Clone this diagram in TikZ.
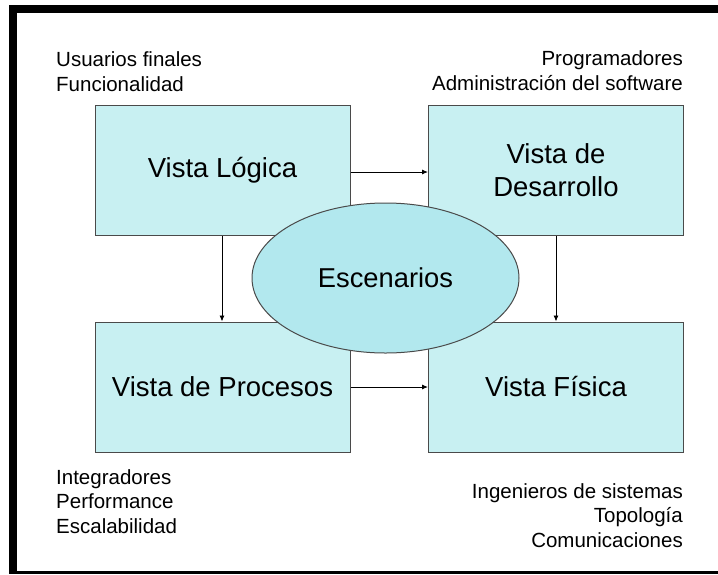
\documentclass[tikz,border=0pt]{standalone}
\usepackage{fontspec}
\setmainfont{Liberation Sans}
\usetikzlibrary{shapes.geometric,arrows.meta}
\definecolor{boxfill}{HTML}{C8F0F2}
\definecolor{ellfill}{HTML}{B2E8EE}
\definecolor{edge}{HTML}{4A4A4A}
\begin{document}
\begin{tikzpicture}[x=1pt,y=-1pt,
  viewbox/.style={draw=edge,line width=1pt,fill=boxfill,minimum width=255pt,minimum height=130pt,inner sep=0pt,align=center,font=\fontsize{27.5}{33}\selectfont},
  scen/.style={ellipse,draw=edge,line width=1pt,fill=ellfill,minimum width=267pt,minimum height=150pt,inner sep=0pt,font=\fontsize{27.3}{30}\selectfont},
  note/.style={inner sep=0pt,font=\fontsize{20.5}{24.5}\selectfont},
  flow/.style={line width=0.9pt,-{Latex[length=6pt,width=5pt]}}]
\useasboundingbox (0,0) rectangle (718,574);
\fill[white] (0,0) rectangle (718,574);
% frame
\fill[black] (9,5) rectangle (718,13);
\fill[black] (9,5) rectangle (17,574);
\fill[black] (9,570.5) rectangle (718,574);
% boxes
\node[viewbox] (vl) at (222.5,170.5) {Vista Lógica};
\node[viewbox] (vd) at (556,170.5) {Vista de\\Desarrollo};
\node[viewbox] (vp) at (222.5,387) {Vista de Procesos};
\node[viewbox] (vf) at (556,387) {Vista Física};
% arrows
\draw[flow] (vl.east |- 0,172) -- (vd.west |- 0,172);
\draw[flow] (vp.east |- 0,387) -- (vf.west |- 0,387);
\draw[flow] (vl.south -| 222,0) -- (vp.north -| 222,0);
\draw[flow] (vd.south -| 556,0) -- (vf.north -| 556,0);
% scenarios
\node[scen] (es) at (385.5,278) {Escenarios};
% notes
\node[note,anchor=base west,align=left] (n1) at (56,91) {Usuarios finales\\Funcionalidad};
\node[note,anchor=base east,align=right] (n2) at (683,90) {Programadores\\Administración del software};
\node[note,anchor=base west,align=left] (n3) at (56,533) {Integradores\\Performance\\Escalabilidad};
\node[note,anchor=base east,align=right] (n4) at (683,547) {Ingenieros de sistemas\\Topología\\Comunicaciones};
\end{tikzpicture}
\end{document}
